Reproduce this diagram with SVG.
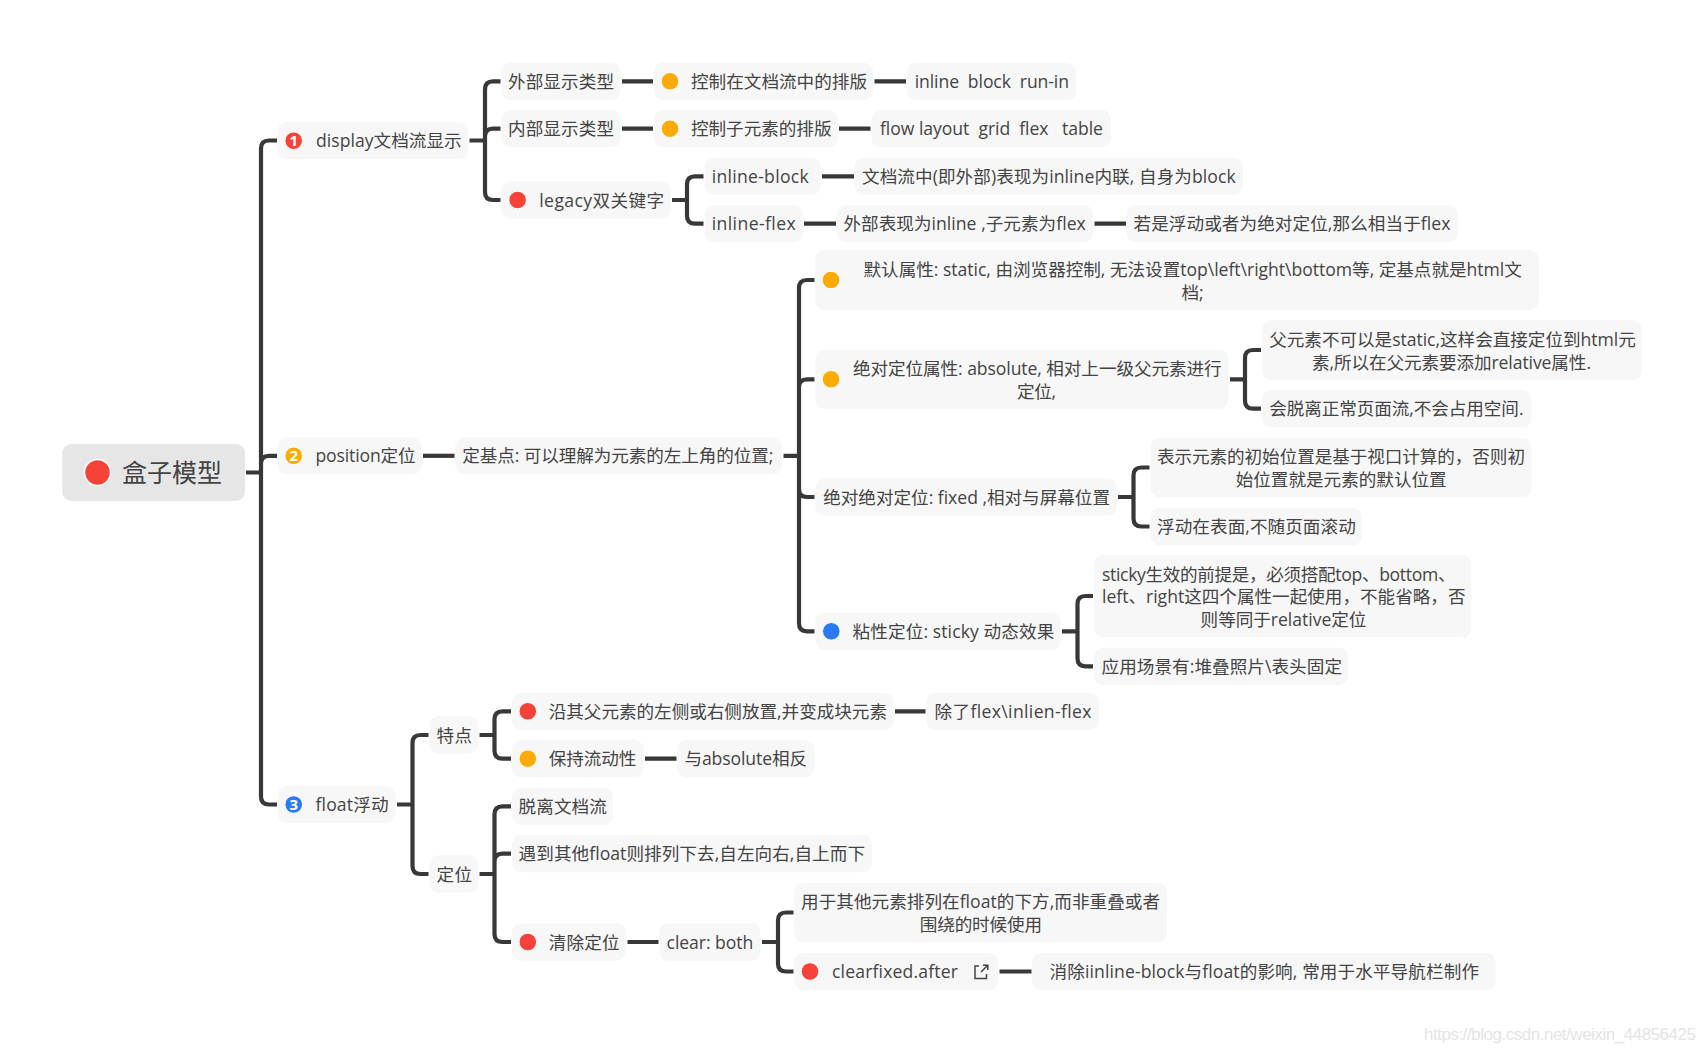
<svg xmlns="http://www.w3.org/2000/svg" width="1705" height="1052" viewBox="0 0 1705 1052">
<style>
text{font-family:"Open Sans","Noto Sans CJK SC",sans-serif;font-size:17.6px;fill:#444;white-space:pre;font-variant-ligatures:none;transform:translateY(.6px)}
.m{text-anchor:middle}
.n{fill:#f7f7f7}
.root{fill:#e6e6e6}
.red{fill:#f6433a;stroke:#fff;stroke-width:1}
.org{fill:#fcab05;stroke:#fff;stroke-width:1}
.blu{fill:#2a79f6;stroke:#fff;stroke-width:1}
.num{font-size:15px;font-weight:700;fill:#fff;text-anchor:middle;font-family:"Open Sans",sans-serif}
.c{fill:none;stroke:#383838;stroke-width:4.2;stroke-linecap:butt}
.wm{font-family:"Liberation Sans",sans-serif;font-size:17px;fill:#e4e4e4}
.lk{fill:none;stroke:#444;stroke-width:1.5}
</style>
<rect width="1705" height="1052" fill="#fff"/>
<g id="connectors">
<path class="c" d="M246 472.5H261M277 140.5H269Q261 140.5 261 148.5V796.5Q261 804.5 269 804.5H277M261 463.8Q261 455.8 269 455.8H277"/>
<path class="c" d="M469.5 140.5H485M500.5 81.3H493Q485 81.3 485 89.3V192Q485 200 493 200H500.5M485 136.7Q485 128.7 493 128.7H500.5"/>
<path class="c" d="M622 81.3H653M622 128.7H653M874.5 81.3H906M839 128.7H870.5"/>
<path class="c" d="M672 200H687M703.5 176.3H695Q687 176.3 687 184.3V215.7Q687 223.7 695 223.7H703.5"/>
<path class="c" d="M822 176.3H854M804 223.7H836M1094.5 223.7H1126"/>
<path class="c" d="M423 455.8H454.5"/>
<path class="c" d="M783.5 455.8H799M814.5 280H807Q799 280 799 288V623.3Q799 631.3 807 631.3H814.5M799 387.3Q799 379.3 807 379.3H814.5M799 489Q799 497 807 497H814.5"/>
<path class="c" d="M1230 379.3H1245M1261 350H1253Q1245 350 1245 358V400.7Q1245 408.7 1253 408.7H1261"/>
<path class="c" d="M1118 497H1133.5M1149.5 467.5H1141.5Q1133.5 467.5 1133.5 475.5V518.5Q1133.5 526.5 1141.5 526.5H1149.5"/>
<path class="c" d="M1062 631.3H1077.5M1093 596H1085.5Q1077.5 596 1077.5 604V658.3Q1077.5 666.3 1085.5 666.3H1093"/>
<path class="c" d="M397 804.5H412.5M428.5 735H420.5Q412.5 735 412.5 743V866Q412.5 874 420.5 874H428.5"/>
<path class="c" d="M479.5 735H494.5M511 711.3H502.5Q494.5 711.3 494.5 719.3V750.7Q494.5 758.7 502.5 758.7H511"/>
<path class="c" d="M479.5 874H494.5M511 806.3H502.5Q494.5 806.3 494.5 814.3V934Q494.5 942 502.5 942H511M494.5 861.7Q494.5 853.7 502.5 853.7H511"/>
<path class="c" d="M895 711.3H925.5M645 758.7H676.5M627.5 942H658.5"/>
<path class="c" d="M762 942H778M793.5 912.5H786Q778 912.5 778 920.5V963.5Q778 971.5 786 971.5H793.5"/>
<path class="c" d="M999.5 971.5H1031.5"/>
</g>
<g id="root"><rect class="root" x="62.3" y="444" width="182.7" height="57" rx="9"/><circle class="red" cx="97.5" cy="472.5" r="13" style="stroke-width:1.5"/><text x="122" y="481.5" style="font-size:25px" textLength="100">盒子模型</text></g>
<g id="n-display"><rect class="n" x="277.7" y="122" width="190.6" height="37" rx="9"/><circle class="red" cx="293.7" cy="140.7" r="8.8"/><text class="num" x="293.7" y="145.2">1</text><text x="316" y="146.5" textLength="145.7">display文档流显示</text></g>
<g id="n-outer"><rect class="n" x="501.4" y="62.7" width="119.2" height="37.3" rx="9"/><text x="508" y="87.3" textLength="106">外部显示类型</text></g>
<g id="n-outer-d"><rect class="n" x="654" y="62.7" width="219" height="37.3" rx="9"/><circle class="org" cx="670" cy="81.3" r="8.8"/><text x="691" y="87.3" textLength="176">控制在文档流中的排版</text></g>
<g id="n-outer-v"><rect class="n" x="906.8" y="62.7" width="169.5" height="37.3" rx="9"/><text x="914.7" y="87.3" textLength="154.3">inline  block  run-in</text></g>
<g id="n-inner"><rect class="n" x="501.4" y="110" width="119.2" height="37.3" rx="9"/><text x="508" y="134.7" textLength="106">内部显示类型</text></g>
<g id="n-inner-d"><rect class="n" x="654" y="110" width="183.8" height="37.3" rx="9"/><circle class="org" cx="670" cy="128.7" r="8.8"/><text x="691" y="134.7" textLength="140.5">控制子元素的排版</text></g>
<g id="n-inner-v"><rect class="n" x="871.5" y="110" width="239.5" height="37.3" rx="9"/><text x="880" y="134.7" textLength="223">flow layout  grid  flex   table</text></g>
<g id="n-legacy"><rect class="n" x="501.4" y="181.3" width="169.1" height="37.4" rx="9"/><circle class="red" cx="517.6" cy="200" r="8.8"/><text x="539.3" y="206" textLength="124.7">legacy双关键字</text></g>
<g id="n-iblock"><rect class="n" x="704.6" y="157.7" width="116" height="37.3" rx="9"/><text x="711.7" y="182.3" textLength="97">inline-block</text></g>
<g id="n-iflex"><rect class="n" x="704.6" y="205" width="98.1" height="37.3" rx="9"/><text x="711.7" y="229.7" textLength="84">inline-flex</text></g>
<g id="n-iblock-d"><rect class="n" x="854.6" y="157.7" width="388.4" height="37.3" rx="9"/><text x="862" y="182.3" textLength="373.7">文档流中(即外部)表现为inline内联, 自身为block</text></g>
<g id="n-iflex-d"><rect class="n" x="836.7" y="205" width="256.3" height="37.3" rx="9"/><text x="843.4" y="229.7" textLength="242.4">外部表现为inline ,子元素为flex</text></g>
<g id="n-iflex-e"><rect class="n" x="1126.8" y="205" width="331.2" height="37.3" rx="9"/><text x="1133.5" y="229.7" textLength="317">若是浮动或者为绝对定位,那么相当于flex</text></g>
<g id="n-position"><rect class="n" x="277.7" y="437.3" width="144" height="37" rx="9"/><circle class="org" cx="293.7" cy="455.8" r="8.8"/><text class="num" x="293.7" y="460.3">2</text><text x="315.4" y="461.8" textLength="100.3">position定位</text></g>
<g id="n-base"><rect class="n" x="455.3" y="437.3" width="326.7" height="37" rx="9"/><text x="462.3" y="461.8" textLength="311">定基点: 可以理解为元素的左上角的位置;</text></g>
<g id="n-static"><rect class="n" x="815.4" y="250" width="723.6" height="60" rx="9"/><circle class="org" cx="831" cy="280" r="8.8"/><text class="m" x="1192.7" y="275" textLength="658.3">默认属性: static, 由浏览器控制, 无法设置top\left\right\bottom等, 定基点就是html文</text><text class="m" x="1192.5" y="298" textLength="22">档;</text></g>
<g id="n-absolute"><rect class="n" x="815.4" y="349.7" width="413" height="59.3" rx="9"/><circle class="org" cx="831" cy="379.3" r="8.8"/><text class="m" x="1037.3" y="374" textLength="368.6">绝对定位属性: absolute, 相对上一级父元素进行</text><text class="m" x="1036.5" y="397" textLength="39">定位,</text></g>
<g id="n-abs-1"><rect class="n" x="1262" y="320.3" width="380" height="59.7" rx="9"/><text class="m" x="1452.5" y="345.3" textLength="366.5">父元素不可以是static,这样会直接定位到html元</text><text class="m" x="1451.5" y="368" textLength="279">素,所以在父元素要添加relative属性.</text></g>
<g id="n-abs-2"><rect class="n" x="1262" y="390" width="269.4" height="37.3" rx="9"/><text x="1269.3" y="414.7" textLength="254.2">会脱离正常页面流,不会占用空间.</text></g>
<g id="n-fixed"><rect class="n" x="815.4" y="478.3" width="301.3" height="37.4" rx="9"/><text x="823.2" y="503" textLength="286.8">绝对绝对定位: fixed ,相对与屏幕位置</text></g>
<g id="n-fixed-1"><rect class="n" x="1150.4" y="437.7" width="381" height="59.6" rx="9"/><text class="m" x="1341" y="462.7" textLength="368">表示元素的初始位置是基于视口计算的，否则初</text><text class="m" x="1341.2" y="485" textLength="211">始位置就是元素的默认位置</text></g>
<g id="n-fixed-2"><rect class="n" x="1150.4" y="508" width="211.6" height="37.3" rx="9"/><text x="1157" y="532.5" textLength="198.8">浮动在表面,不随页面滚动</text></g>
<g id="n-sticky"><rect class="n" x="815.4" y="612.7" width="245.4" height="37.3" rx="9"/><circle class="blu" cx="831.3" cy="631.3" r="8.8"/><text x="852.6" y="637.3" textLength="201.7">粘性定位: sticky 动态效果</text></g>
<g id="n-sticky-1"><rect class="n" x="1093.9" y="555" width="377.5" height="82.3" rx="9"/><text x="1102" y="580.3" textLength="353.5">sticky生效的前提是，必须搭配top、bottom、</text><text x="1102" y="602.7" textLength="363.5">left、right这四个属性一起使用，不能省略，否</text><text class="m" x="1283.5" y="625" textLength="165.8">则等同于relative定位</text></g>
<g id="n-sticky-2"><rect class="n" x="1093.9" y="647.7" width="254.1" height="37.3" rx="9"/><text x="1101.5" y="672.3" textLength="240.5">应用场景有:堆叠照片\表头固定</text></g>
<g id="n-float"><rect class="n" x="277.8" y="786" width="117.8" height="37" rx="9"/><circle class="blu" cx="293.7" cy="804.5" r="8.8"/><text class="num" x="293.7" y="809">3</text><text x="315.5" y="810.5" textLength="73">float浮动</text></g>
<g id="n-feature"><rect class="n" x="429.3" y="716.3" width="49" height="37.4" rx="9"/><text x="436.4" y="741" textLength="35.6">特点</text></g>
<g id="n-locate"><rect class="n" x="429.3" y="855.3" width="49" height="37.4" rx="9"/><text x="436.4" y="880" textLength="35.6">定位</text></g>
<g id="n-along"><rect class="n" x="512" y="692.7" width="381.6" height="37.3" rx="9"/><circle class="red" cx="527.8" cy="711.3" r="8.8"/><text x="548.7" y="717.3" textLength="338.3">沿其父元素的左侧或右侧放置,并变成块元素</text></g>
<g id="n-except"><rect class="n" x="926.3" y="692.7" width="172.7" height="37.3" rx="9"/><text x="934.6" y="717.3" textLength="156.9">除了flex\inlien-flex</text></g>
<g id="n-keep"><rect class="n" x="512" y="740" width="131.6" height="37.3" rx="9"/><circle class="org" cx="527.8" cy="758.7" r="8.8"/><text x="548.7" y="764.7" textLength="87.7">保持流动性</text></g>
<g id="n-keep-d"><rect class="n" x="677.2" y="740" width="137.3" height="37.3" rx="9"/><text x="684.4" y="764.7" textLength="122.6">与absolute相反</text></g>
<g id="n-out"><rect class="n" x="512" y="787.7" width="101" height="37.3" rx="9"/><text x="518.6" y="812.3" textLength="88.2">脱离文档流</text></g>
<g id="n-meet"><rect class="n" x="512" y="835" width="360" height="37.3" rx="9"/><text x="518.6" y="859.7" textLength="346.4">遇到其他float则排列下去,自左向右,自上而下</text></g>
<g id="n-clear"><rect class="n" x="512" y="923.3" width="114" height="37.4" rx="9"/><circle class="red" cx="527.8" cy="942" r="8.8"/><text x="548.7" y="948" textLength="70.9">清除定位</text></g>
<g id="n-both"><rect class="n" x="659.4" y="923.3" width="101" height="37.4" rx="9"/><text x="666.5" y="948" textLength="86.8">clear: both</text></g>
<g id="n-below"><rect class="n" x="794.2" y="882.7" width="372.8" height="59.6" rx="9"/><text class="m" x="980.5" y="907.7" textLength="359">用于其他元素排列在float的下方,而非重叠或者</text><text class="m" x="980.9" y="930" textLength="122.2">围绕的时候使用</text></g>
<g id="n-cf"><rect class="n" x="794.2" y="953" width="204.1" height="37" rx="9"/><circle class="red" cx="810" cy="971.5" r="8.8"/><text x="832" y="977.5" textLength="126">clearfixed.after</text><path class="lk" d="M979 966H975V978.5H986.5V974M981 972L987.5 965.5M983 965.2H987.8V970"/></g>
<g id="n-cf-d"><rect class="n" x="1032" y="953" width="463.6" height="37" rx="9"/><text x="1049.6" y="977.5" textLength="429.4">消除iinline-block与float的影响, 常用于水平导航栏制作</text></g>
<text class="wm" x="1424" y="1039" textLength="272">https://blog.csdn.net/weixin_44856425</text>
</svg>
